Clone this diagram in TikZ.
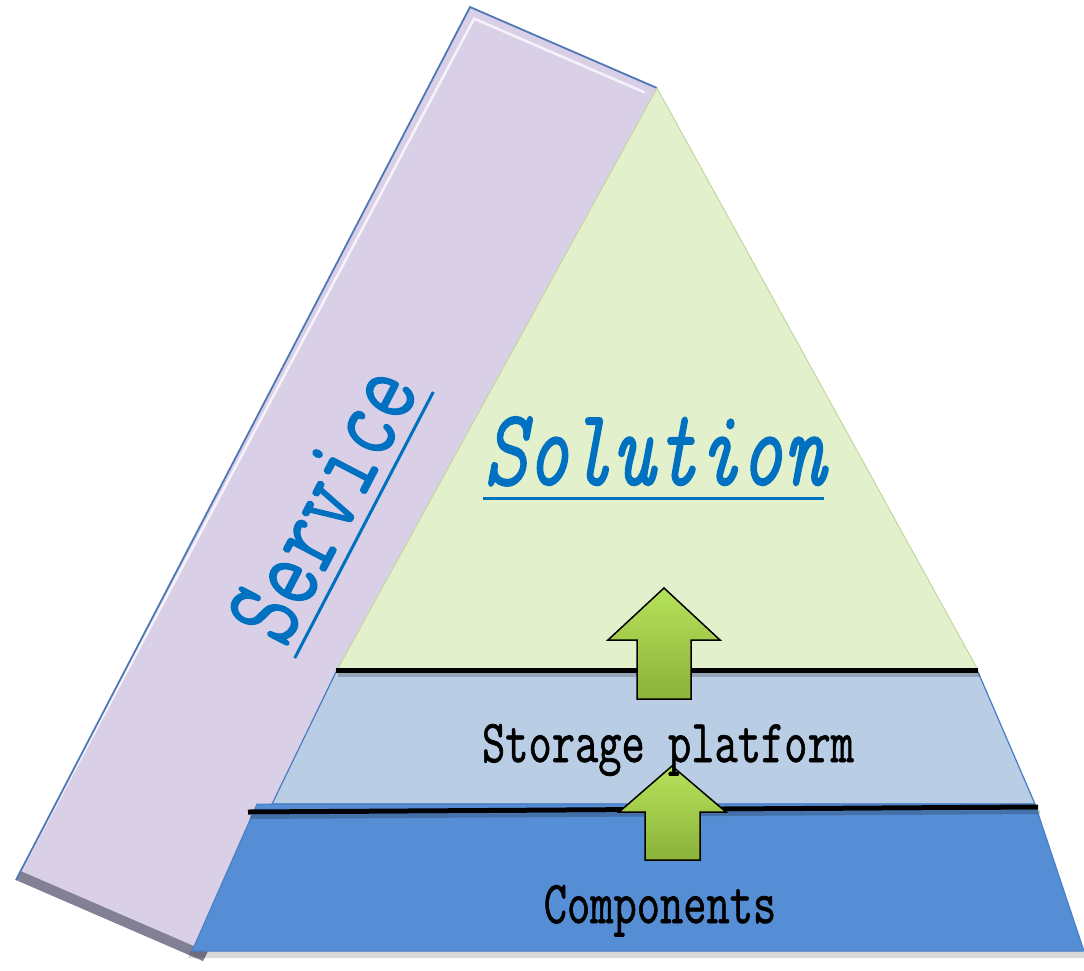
\documentclass[tikz,border=0pt]{standalone}
\usepackage{fontspec}
\usepackage{graphicx}
\newfontfamily\reftt{Latin Modern Mono}[FakeBold=1.2]
\definecolor{bandfill}{RGB}{217,208,232}
\definecolor{bandedge}{RGB}{79,120,180}
\definecolor{bandshade}{RGB}{130,128,148}
\definecolor{trifill}{RGB}{226,240,203}
\definecolor{triedge}{RGB}{196,214,160}
\definecolor{storfill}{RGB}{185,205,229}
\definecolor{compfill}{RGB}{85,142,213}
\definecolor{layeredge}{RGB}{70,125,195}
\definecolor{txtblue}{RGB}{0,112,192}
\definecolor{arrtop}{RGB}{182,226,90}
\definecolor{arrbot}{RGB}{140,178,58}
\newcommand{\narrowtxt}[1]{\scalebox{0.74}[1]{#1}}
\tikzset{
  bigtxt/.style={text=txtblue, inner sep=0pt, font=\fontsize{110}{120}\selectfont\reftt},
  laytxt/.style={text=black, inner sep=0pt, font=\fontsize{61}{70}\selectfont\reftt},
  uline/.style={draw=txtblue, line width=3pt},
  blackline/.style={draw=black, line width=5pt},
  uparrow/.style={draw=black, line width=1.5pt, line join=miter, top color=arrtop, bottom color=arrbot}
}
\begin{document}
\begin{tikzpicture}[x=1pt,y=-1pt]
\useasboundingbox (0,0) rectangle (1084,970);
\begin{scope}
\clip (0,0) rectangle (1084,970);
% service band
\fill[bandfill] (470,7) -- (657,88) -- (203,961) -- (16,880) -- cycle;
\fill[bandshade] (16,880) -- (203,961) -- (207.6,952) -- (20.6,871) -- cycle;
\draw[white, opacity=0.75, line width=2.5pt] (20.6,871) -- (474.1,18.6) -- (644.6,92.4);
\draw[bandedge, line width=1.8pt] (16,880) -- (470,7) -- (657,88);
% solution triangle
\filldraw[fill=trifill, draw=triedge, line width=1pt] (657,88) -- (978,670) -- (337,670) -- cycle;
% storage layer
\filldraw[fill=storfill, draw=layeredge, line width=1.2pt] (336,672) -- (978,672) -- (1035,804) -- (272,804) -- cycle;
\draw[black, opacity=0.2, line width=4pt] (338,675) -- (980,675);
\draw[blackline] (336,670) -- (978,670);
% components layer
\fill[black, opacity=0.15] (190,951) -- (1084,951) -- (1084,958) -- (188,958) -- cycle;
\filldraw[fill=compfill, draw=layeredge, line width=1pt] (257,804) -- (1035,804) -- (1084,951) -- (192,951) -- cycle;
\draw[black, opacity=0.2, line width=4pt] (250,817) -- (1040,812);
\draw[blackline] (248,812) -- (1038,807);
% arrows
\draw[uparrow] (664,588) -- (720,640) -- (691,640) -- (691,699) -- (637,699) -- (637,640) -- (608,640) -- cycle;
\draw[uparrow] (672,766) -- (726,812) -- (700,812) -- (700,860) -- (645,860) -- (645,812) -- (619,812) -- cycle;
\end{scope}
% texts
\node[bigtxt, anchor=base] (sol) at (655,485) {\narrowtxt{\itshape Solution}};
\draw[uline] (483,498) -- (824,498);
\begin{scope}[shift={(364,525)}, rotate=62.5]
\node[bigtxt, anchor=base, rotate=62.5] (serv) at (0,-13) {\narrowtxt{Service}};
\draw[uline] (-150,0) -- (150,0);
\end{scope}
\node[laytxt, anchor=base] (stor) at (668,762) {\narrowtxt{Storage platform}};
\node[laytxt, anchor=base] (comp) at (660,923) {\narrowtxt{Components}};
\end{tikzpicture}
\end{document}
